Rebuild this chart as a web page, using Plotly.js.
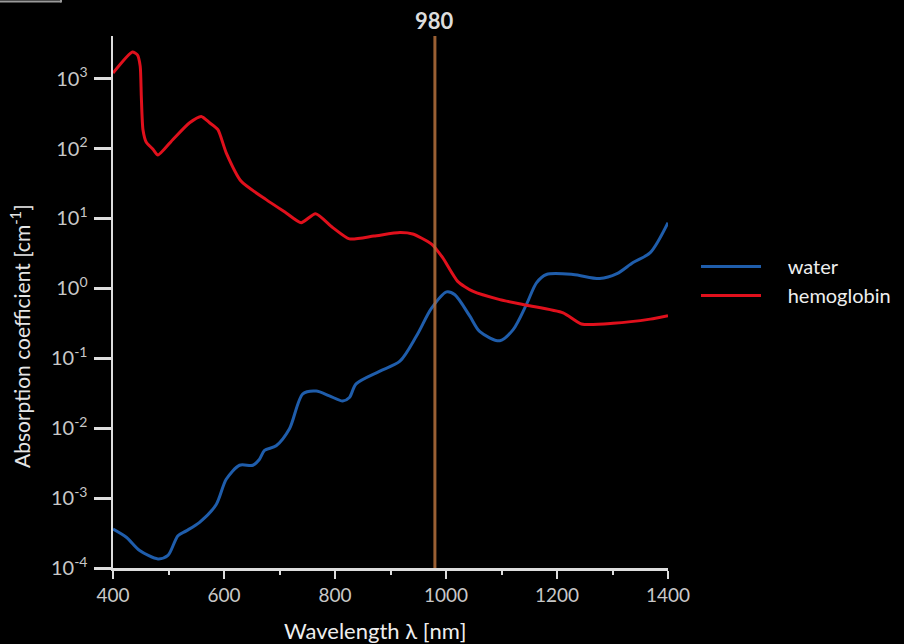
<!DOCTYPE html>
<html>
<head>
<meta charset="utf-8">
<script src="https://cdn.plot.ly/plotly-3.0.1.min.js"></script>
<style>html,body{margin:0;padding:0;background:#000;}#chart{width:904px;height:644px;}</style>
</head>
<body>
<div id="chart"></div>
<script>
// Water absorption coefficient [cm^-1]
var waterWavelength = [400, 424, 448, 481, 499, 517, 532, 556, 586, 604, 628, 652, 664, 673, 694, 718, 742, 766, 790, 814, 826, 838, 880, 917, 947, 974, 1001, 1016, 1043, 1061, 1097, 1121, 1145, 1163, 1181, 1229, 1277, 1308, 1337, 1368, 1400];
var waterAbsorption = [3.6e-4, 2.75e-4, 1.78e-4, 1.35e-4, 1.51e-4, 2.9e-4, 3.4e-4, 4.5e-4, 8.1e-4, 1.86e-3, 2.95e-3, 2.95e-3, 3.6e-3, 4.8e-3, 5.6e-3, 9.8e-3, 0.031, 0.034, 0.029, 0.0245, 0.0275, 0.043, 0.065, 0.091, 0.21, 0.52, 0.89, 0.81, 0.40, 0.24, 0.178, 0.257, 0.59, 1.2, 1.58, 1.58, 1.38, 1.62, 2.34, 3.24, 8.7];

// Hemoglobin absorption coefficient [cm^-1]
var hbWavelength = [400, 435, 444, 449, 451, 454, 460, 472, 481, 508, 538, 559, 574, 589, 604, 631, 676, 712, 739, 765, 796, 826, 870, 917, 940, 974, 994, 1021, 1048, 1097, 1145, 1211, 1244, 1301, 1368, 1400];
var hbAbsorption = [1200, 2400, 2190, 1510, 560, 186, 123, 98, 81, 135, 234, 288, 234, 186, 87, 34, 18.6, 12, 8.7, 11.7, 7.4, 5.1, 5.6, 6.3, 6.0, 4.3, 2.75, 1.26, 0.91, 0.69, 0.575, 0.447, 0.31, 0.316, 0.363, 0.407];

var seriesNames = ["water", "hemoglobin"];
var markerWavelength = 980;
var markerLabel = "980";

var xTickVals = [400, 600, 800, 1000, 1200, 1400];
var yTickVals = [1e-4, 1e-3, 1e-2, 1e-1, 1, 10, 100, 1000];
var yTickText = ["10<sup>-4</sup>", "10<sup>-3</sup>", "10<sup>-2</sup>", "10<sup>-1</sup>", "10<sup>0</sup>", "10<sup>1</sup>", "10<sup>2</sup>", "10<sup>3</sup>"];

var FONT = "Lato, 'Open Sans', sans-serif";

var traces = [
  {x: waterWavelength, y: waterAbsorption, name: "\u2003\u2004" + seriesNames[0], mode: "lines",
   line: {color: "#1f5dab", width: 3, shape: "spline", smoothing: 0.8}},
  {x: hbWavelength, y: hbAbsorption, name: "\u2003\u2004" + seriesNames[1], mode: "lines",
   line: {color: "#e0101c", width: 3, shape: "spline", smoothing: 0.6}}
];

var layout = {
  width: 904, height: 644,
  paper_bgcolor: "#000", plot_bgcolor: "#000",
  margin: {l: 113, r: 236, t: 36, b: 76, pad: 0, autoexpand: false},
  font: {family: FONT, color: "#cfcfcf", size: 15},
  showlegend: true,
  legend: {x: (696 - 113) / 555, y: (568 - 247) / 532, xanchor: "left", yanchor: "top", bgcolor: "rgba(0,0,0,0)",
           font: {family: FONT, size: 20, color: "#eeeeee"}, itemwidth: 60, tracegroupgap: 0},
  xaxis: {
    range: [400, 1400], tickvals: xTickVals, ticktext: xTickVals.map(String),
    showgrid: false, zeroline: false, showline: true, linecolor: "#dddddd", linewidth: 3,
    ticks: "outside", ticklen: 8, tickwidth: 2, tickcolor: "#dddddd",
    minor: {tickvals: [500, 700, 900, 1100, 1300], ticks: "outside", ticklen: 4, tickwidth: 2, tickcolor: "#dddddd", showgrid: false},
    tickfont: {family: FONT, size: 19, color: "#c8c8c8"}
  },
  yaxis: {
    type: "log", range: [-4, 3.61], tickvals: yTickVals, ticktext: yTickText,
    showgrid: false, zeroline: false, showline: true, linecolor: "#dddddd", linewidth: 2.5,
    ticks: "outside", ticklen: 17, tickwidth: 3, tickcolor: "#dddddd",
    ticklabelstandoff: 2,
    tickfont: {family: FONT, size: 20, color: "#c8c8c8"}
  },
  shapes: [
    {type: "line", xref: "x", yref: "paper", x0: markerWavelength, x1: markerWavelength, y0: 0, y1: 1,
     line: {color: "#b5703d", width: 3}, opacity: 0.85, layer: "above"},
    {type: "line", xref: "paper", yref: "paper", x0: (-5 - 113) / 555, x1: (61 - 113) / 555, y0: (568 - 1.5) / 532, y1: (568 - 1.5) / 532,
     line: {color: "#9a9a9a", width: 2}},
    {type: "line", xref: "paper", yref: "paper", x0: (61 - 113) / 555, x1: (61 - 113) / 555, y0: (568 + 5) / 532, y1: (568 - 2.5) / 532,
     line: {color: "#9a9a9a", width: 2}}
  ],
  annotations: [
    {text: "<b>" + markerLabel + "</b>", xref: "x", yref: "paper", x: markerWavelength, y: (568 - 21) / 532,
     showarrow: false, xanchor: "center", yanchor: "middle", font: {family: FONT, size: 22, color: "#dddddd"}},
    {text: "Absorption coefficient [cm<sup>-1</sup>]", xref: "paper", yref: "paper", x: (20 - 113) / 555, y: (568 - 336) / 532,
     textangle: -90, showarrow: false, xanchor: "center", yanchor: "middle", font: {family: FONT, size: 21, color: "#e6e6e6"}},
    {text: "Wavelength λ [nm]", xref: "paper", yref: "paper", x: (375 - 113) / 555, y: (568 - 630) / 532,
     showarrow: false, xanchor: "center", yanchor: "middle", font: {family: FONT, size: 22, color: "#eeeeee"}}
  ]
};

Plotly.newPlot("chart", traces, layout, {displayModeBar: false, staticPlot: true});
</script>
</body>
</html>
